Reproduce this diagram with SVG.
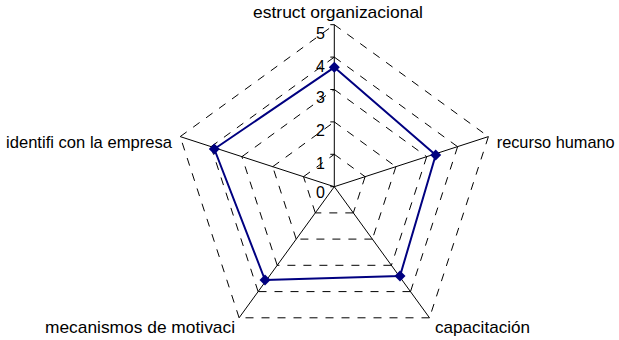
<svg xmlns="http://www.w3.org/2000/svg" width="619" height="340" viewBox="0 0 619 340">
<style>
.grid{fill:none;stroke:#000;stroke-width:1;stroke-dasharray:8,8}
.axis{fill:none;stroke:#000;stroke-width:1}
.series{fill:none;stroke:#000080;stroke-width:2;stroke-linejoin:round}
.mk{fill:#000080}
.lbl{font-family:"Liberation Sans",Arial,sans-serif;font-size:17px;fill:#000}
.val{font-family:"Liberation Sans",Arial,sans-serif;font-size:16px;fill:#000;text-anchor:end}
</style>
<defs>
<path id="dia" d="M0,-5.5 L5.5,0 L0,5.5 L-5.5,0 Z"/>
</defs>
<g id="gridlines">
<path class="grid" d="M334.3,154.3 L365.1,176.7 M365.1,176.7 L353.3,212.9 M353.3,212.9 L315.3,212.9 M315.3,212.9 L303.5,176.7 M303.5,176.7 L334.3,154.3"/>
<path class="grid" d="M334.3,121.9 L395.9,166.7 M395.9,166.7 L372.4,239.1 M372.4,239.1 L296.2,239.1 M296.2,239.1 L272.7,166.7 M272.7,166.7 L334.3,121.9"/>
<path class="grid" d="M334.3,89.5 L426.7,156.7 M426.7,156.7 L391.4,265.3 M391.4,265.3 L277.2,265.3 M277.2,265.3 L241.9,156.7 M241.9,156.7 L334.3,89.5"/>
<path class="grid" d="M334.3,57.1 L457.6,146.7 M457.6,146.7 L410.5,291.6 M410.5,291.6 L258.1,291.6 M258.1,291.6 L211.0,146.7 M211.0,146.7 L334.3,57.1"/>
<path class="grid" d="M334.3,24.7 L488.4,136.6 M488.4,136.6 L429.5,317.8 M429.5,317.8 L239.1,317.8 M239.1,317.8 L180.2,136.6 M180.2,136.6 L334.3,24.7"/>
</g>
<g id="axes">
<path class="axis" d="M334.3,186.7 L334.3,24.7 M334.3,186.7 L488.4,136.6 M334.3,186.7 L429.5,317.8 M334.3,186.7 L239.1,317.8 M334.3,186.7 L180.2,136.6"/>
<path class="axis" d="M330.3,186.7 H334.3 M330.3,154.3 H334.3 M330.3,121.9 H334.3 M330.3,89.5 H334.3 M330.3,57.1 H334.3 M330.3,24.7 H334.3"/>
</g>
<g id="value-labels">
<text class="val" x="325" y="198">0</text>
<text class="val" x="325" y="168.5">1</text>
<text class="val" x="325" y="135.5">2</text>
<text class="val" x="325" y="103">3</text>
<text class="val" x="325" y="72">4</text>
<text class="val" x="325" y="38.5">5</text>
</g>
<g id="connectors">
<polygon class="series" points="334.3,67.3 435.7,155 400,276 265,280 214.3,149"/>
</g>
<g id="node-estruct">
<use href="#dia" class="mk" x="334.3" y="67.3"/>
<text class="lbl" x="253" y="18" textLength="170" lengthAdjust="spacingAndGlyphs">estruct organizacional</text>
</g>
<g id="node-recurso">
<use href="#dia" class="mk" x="435.7" y="155"/>
<text class="lbl" x="496.7" y="148" textLength="118" lengthAdjust="spacingAndGlyphs">recurso humano</text>
</g>
<g id="node-capacitacion">
<use href="#dia" class="mk" x="400" y="276"/>
<text class="lbl" x="435" y="333" textLength="95" lengthAdjust="spacingAndGlyphs">capacitación</text>
</g>
<g id="node-mecanismos">
<use href="#dia" class="mk" x="265" y="280"/>
<text class="lbl" x="45" y="333" textLength="190" lengthAdjust="spacingAndGlyphs">mecanismos de motivaci</text>
</g>
<g id="node-identifi">
<use href="#dia" class="mk" x="214.3" y="149"/>
<text class="lbl" x="6" y="148" textLength="166" lengthAdjust="spacingAndGlyphs">identifi con la empresa</text>
</g>
</svg>
